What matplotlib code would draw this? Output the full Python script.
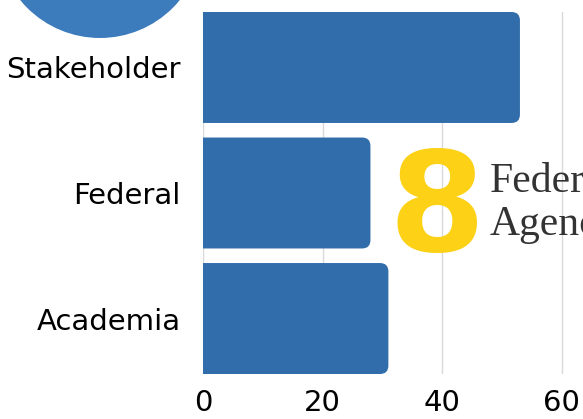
import matplotlib.pyplot as plt
from matplotlib.patches import Circle, FancyBboxPatch

categories = ['Academia', 'Federal', 'Stakeholder']
counts = [31, 28, 53]
highlight_value = '8'
highlight_label = ['Federal', 'Agencies']

BAR_COLOR = '#316DAB'
CIRCLE_COLOR = '#3D7CBC'
HIGHLIGHT_COLOR = '#FCD116'

fig = plt.figure(figsize=(5.83, 4.19), dpi=100)
ax = fig.add_axes([203 / 583, 45 / 419, 380 / 583, 362 / 419])

bar_h = 0.884
bars = ax.barh(range(len(categories)), counts, height=bar_h, color=BAR_COLOR, zorder=2)

ax.set_xlim(0, 380 / 5.98)
ax.set_ylim(-bar_h / 2, len(categories) - 1 + bar_h / 2)

# swap plain rectangles for ones with rounded right ends
aspect = (1 / 125.5) / (1 / 5.98)
for rect in bars:
    x, y = rect.get_x(), rect.get_y()
    w, h = rect.get_width(), rect.get_height()
    rect.set_visible(False)
    ax.add_patch(FancyBboxPatch((x - 3, y), w + 3, h,
                                boxstyle='round,pad=0,rounding_size=1.4',
                                mutation_aspect=aspect,
                                fc=BAR_COLOR, ec='none', zorder=2))

ax.set_yticks(range(len(categories)))
ax.set_yticklabels(categories)
ax.set_xticks([0, 20, 40, 60])
ax.tick_params(axis='both', length=0, labelsize=21, colors='black')
ax.tick_params(axis='y', pad=16)
ax.tick_params(axis='x', pad=11)
ax.grid(axis='x', color='#d9d9d9', linewidth=1, zorder=0)
ax.set_axisbelow(True)
for s in ax.spines.values():
    s.set_visible(False)

# decoration
fig.patches.append(Circle((1.00, 4.84), 1.03, transform=fig.dpi_scale_trans,
                          fc=CIRCLE_COLOR, ec='none'))

fig.text(437 / 583, 1 - 251 / 419, highlight_value, color=HIGHLIGHT_COLOR,
         fontsize=100, fontweight='heavy',
         ha='center', va='baseline', family='DejaVu Sans')
fig.text(490 / 583, 1 - 192 / 419, highlight_label[0], color='#333333',
         fontsize=30, family='Liberation Serif', va='baseline')
fig.text(490 / 583, 1 - 235 / 419, highlight_label[1], color='#333333',
         fontsize=30, family='Liberation Serif', va='baseline')

fig.savefig('out.png', dpi=100)
